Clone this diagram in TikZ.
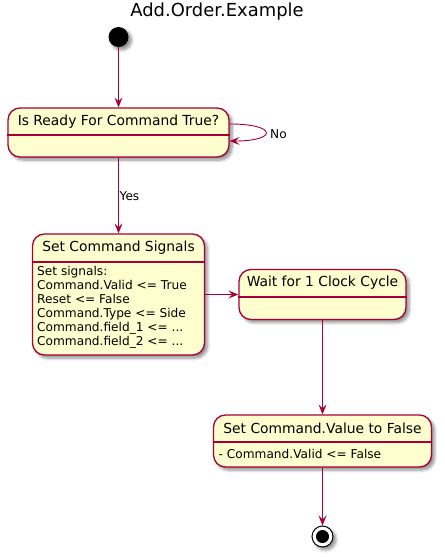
\documentclass[tikz,border=0pt]{standalone}
\usepackage{fontspec}
\setmainfont{DejaVu Sans}
\usetikzlibrary{arrows.meta,shadows.blur}
\definecolor{umlred}{HTML}{A80036}
\definecolor{umlfill}{HTML}{FEFECE}
\tikzset{
  shad/.style={blur shadow={shadow xshift=3bp,shadow yshift=-3bp,shadow blur steps=6,shadow opacity=45,shadow blur radius=3bp}},
  statebox/.style={draw=umlred,fill=umlfill,line width=1.3bp,rounded corners=12bp,shape=rectangle,inner sep=0pt,shad},
  sep/.style={draw=umlred,line width=1.1bp},
  ttl/.style={font=\fontsize{13.9}{16}\selectfont,inner sep=0pt,anchor=center},
  bodytxt/.style={font=\fontsize{12.2}{14}\selectfont,inner sep=0pt,align=left},
  arr/.style={draw=umlred,line width=0.9bp,-{Stealth[length=10bp,width=8bp,inset=4bp]}},
  lbl/.style={font=\fontsize{12.2}{14}\selectfont,inner sep=0pt},
}
\begin{document}
\begin{tikzpicture}[x=1bp,y=-1bp]
\useasboundingbox (0,0) rectangle (445,557);
% title
\node[font=\fontsize{18}{21}\selectfont,inner sep=0pt] (title) at (217,12) {Add.Order.Example};
% start
\node[circle,fill=black,minimum size=20bp,inner sep=0pt,shad] (start) at (118.5,37) {};
% box 1
\node[statebox,minimum width=221bp,minimum height=49bp] (b1) at (118.5,132.5) {};
\node[ttl] (t1) at (118.5,121.5) {Is Ready For Command True?};
\draw[sep] (b1.west |- 0,135) -- (b1.east |- 0,135);
% box 2
\node[statebox,minimum width=172bp,minimum height=121bp] (b2) at (118.5,294.5) {};
\node[ttl] (t2) at (118.5,248) {Set Command Signals};
\draw[sep] (b2.west |- 0,262) -- (b2.east |- 0,262);
\node[bodytxt,anchor=north west] (d2) at (37,266.5) {Set signals:\\Command.Valid <= True\\Reset <= False\\Command.Type <= Side\\Command.field\_1 <= ...\\Command.field\_2 <= ...};
% box 3
\node[statebox,minimum width=167bp,minimum height=50bp] (b3) at (322.5,294.5) {};
\node[ttl] (t3) at (322.5,283) {Wait for 1 Clock Cycle};
\draw[sep] (b3.west |- 0,297) -- (b3.east |- 0,297);
% box 4
\node[statebox,minimum width=218bp,minimum height=52bp] (b4) at (322.5,441) {};
\node[ttl] (t4) at (322.5,428.5) {Set Command.Value to False};
\draw[sep] (b4.west |- 0,442) -- (b4.east |- 0,442);
\node[bodytxt,anchor=west] (d4) at (218.5,453.5) {- Command.Valid <= False};
% end
\node[circle,draw=black,fill=white,line width=1bp,minimum size=21bp,inner sep=0pt,shad] (end) at (322.5,536.5) {};
\node[circle,fill=black,minimum size=13bp,inner sep=0pt] (endin) at (end.center) {};
% connectors
\draw[arr] (start) -- (b1);
\draw[arr] ([yshift=8.5bp]b1.east) .. controls +(48,0) and +(48,0) .. ([yshift=-8.5bp]b1.east);
\node[lbl,anchor=west] (no) at (270,134) {No};
\draw[arr] (b1) -- (b2);
\node[lbl,anchor=west] (yes) at (119.5,196) {Yes};
\draw[arr] (b2) -- (b3);
\draw[arr] (b3) -- (b4);
\draw[arr] (b4) -- (end);
\end{tikzpicture}
\end{document}
